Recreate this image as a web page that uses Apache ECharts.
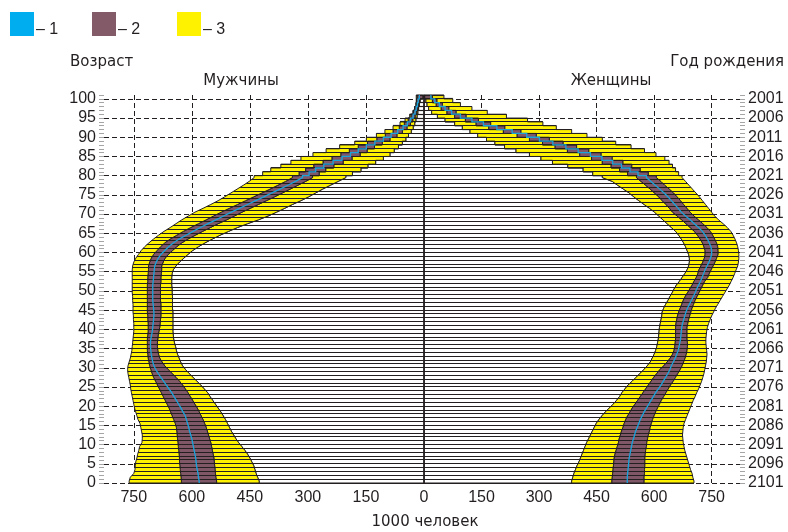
<!DOCTYPE html>
<html><head><meta charset="utf-8">
<script src="https://cdn.jsdelivr.net/npm/echarts@6/dist/echarts.min.js"></script>
<style>html,body{margin:0;padding:0;background:#fff}#c{width:788px;height:532px}</style>
</head><body><div id="c"></div>
<script>
// ---- Data (thousand persons), index = age 0..100 ----
const ageGroups = Array.from({length: 101}, (_, i) => i);
const ageTicks = [0,5,10,15,20,25,30,35,40,45,50,55,60,65,70,75,80,85,90,95,100];
const birthYearAtAge0 = 2101; // right axis: 2101 ... 2001
const valueTicks = [0,150,300,450,600,750];

// Males
const mOuter = [762,759,750,747,746,745,742,740,737,735, 729,728,728,730,732,734,739,742,745,748,
  750,752,754,756,758,759,761,763,765,766, 765,762,759,757,755,754,753,752,751,750,
  750,750,751,751,752,752,752,753,753,754, 754,754,754,754,754,754,753,750,745,738,
  731,722,711,699,686,672,656,641,626,609, 592,571,551,532,515,499,483,467,452,439,
  417,396,370,344,318,287,253,218,179,149, 123,101,80,62,49,37,28,24,21,20,20];
const mPurpleHi = [627,628,629,630,631,632,632,633,634,635, 636,637,638,639,640,643,647,651,655,659,
  664,669,674,679,684,689,694,699,703,706, 709,711,713,714,715,715,715,715,714,713,
  713,713,714,714,715,715,715,715,715,715, 715,715,714,714,713,712,712,709,705,699,
  690,681,670,656,639,622,603,583,563,544, 524,503,482,461,440,419,398,378,358,340,
  323,306,285,261,238,215,193,170,146,122, 100,80,64,51,41,34,28,24,20,19,18];
const mMedian = [581,583,584,586,588,589,590,592,594,596, 598,600,603,606,608,611,614,617,623,628,
  634,640,646,652,659,666,673,680,687,693, 698,701,703,705,706,707,707,706,704,702,
  701,700,699,698,698,699,700,701,701,701, 701,701,700,699,698,697,696,692,687,680,
  670,660,648,633,615,597,578,558,538,518, 498,477,456,435,414,393,372,352,332,314,
  297,280,259,235,212,190,170,149,127,105, 85,68,54,43,35,28,23,20,17,15,12];
const mPurpleLo = [536,538,539,540,541,542,543,545,547,549, 551,554,557,560,563,567,571,576,581,586,
  592,598,604,610,617,624,632,641,651,661, 670,677,683,686,688,689,689,688,687,685,
  683,682,681,680,680,680,680,681,681,681, 681,681,680,680,679,678,678,674,669,661,
  650,639,626,610,591,572,552,532,510,490, 470,449,428,407,386,366,346,326,306,288,
  271,254,233,209,186,165,147,128,108,88, 70,56,44,35,29,23,19,16,14,12,3];
const mInner = [426,430,434,437,440,445,450,456,463,471, 479,486,492,498,503,508,513,519,525,532,
  539,546,553,559,568,577,587,597,607,616, 624,629,633,637,640,642,645,647,648,649,
  649,649,649,649,649,650,650,650,650,651, 651,652,652,652,651,648,641,632,621,610,
  598,583,566,547,527,505,482,456,428,403, 381,360,340,318,298,280,262,242,222,202,
  185,163,145,125,105,88,77,66,56,47, 40,33,28,24,21,18,16,14,12,10,2];

// Females
const fOuter = [704,701,699,695,692,689,686,683,680,678, 676,675,674,675,676,678,682,686,690,694,
  698,702,707,711,716,720,724,727,730,732, 734,736,737,738,737,736,735,735,736,737,
  739,742,746,750,755,760,766,772,778,784, 790,796,801,806,810,814,818,820,821,821,
  820,818,815,811,806,800,791,780,768,758, 750,742,734,726,718,709,700,691,682,673,
  664,656,648,639,628,605,575,540,500,465, 425,385,345,310,270,215,165,125,95,75,52];
const fPurpleHi = [574,574,575,575,576,576,576,577,578,580, 581,583,585,588,590,593,596,600,604,609,
  614,619,625,631,637,643,650,656,662,668, 673,677,681,684,686,687,687,686,686,686,
  686,688,690,693,696,699,703,707,712,717, 722,727,732,740,744,749,754,759,763,767,
  767,766,763,758,753,747,738,727,716,704, 694,686,677,669,660,651,640,628,618,606,
  585,564,542,519,491,462,430,398,363,327, 293,253,211,174,142,110,84,65,48,34,22];
const fMedian = [530,530,531,532,533,534,535,537,539,541, 543,546,549,552,556,560,564,569,574,580,
  586,592,598,604,611,618,624,630,636,641, 645,650,655,659,663,665,667,669,670,671,
  672,674,677,680,683,687,692,697,702,707, 711,716,721,725,729,733,738,743,747,750,
  750,748,744,739,733,726,716,705,694,682, 671,663,654,645,636,626,615,603,592,580,
  558,537,515,492,464,434,402,370,336,301, 268,230,190,155,125,95,72,55,40,28,18];
const fPurpleLo = [490,491,492,493,494,495,496,498,501,504, 507,509,512,515,519,522,526,531,537,543,
  550,557,564,571,578,585,592,599,607,615, 625,634,642,648,652,654,655,656,656,656,
  656,657,659,661,664,668,672,676,681,687, 693,699,704,710,714,717,722,727,731,733,
  733,730,726,720,713,705,694,683,672,660, 648,640,631,621,612,601,590,578,566,554,
  531,510,488,465,437,406,374,342,309,275, 243,207,169,136,108,80,60,45,32,22,2];
const fInner = [385,388,391,395,399,404,408,412,416,420, 424,429,434,439,444,449,456,464,473,483,
  493,502,510,516,524,532,543,553,563,573, 582,590,595,600,604,607,609,611,612,613,
  614,616,618,620,621,625,630,636,641,647, 652,658,666,673,680,686,690,692,692,690,
  686,682,677,671,664,656,645,634,623,612, 601,588,574,560,547,535,520,505,491,465,
  440,415,375,335,305,275,240,210,185,163, 140,120,100,80,55,35,20,12,8,5,1];

// ---- Style ----
const C_TEXT = '#231f20', C_LINE = '#231f20';
const C_BLUE = '#19a3dd', C_PURPLE = '#7f5767', C_YELLOW = '#fff200';
const FONT = 'Liberation Sans, Arial, sans-serif';
const TITLE_FONT = '15px "DejaVu Sans", sans-serif';
const STEP_AGE = 80; // rows from this age upward are drawn as stepped blocks

function rows(inner, lo, med, hi, outer) {
  return ageGroups.map((a, i) => [inner[i], lo[i], med[i], hi[i], outer[i], a]);
}

function makeRender(withCenter) {
  return function (params, api) {
    if (params.dataIndexInside !== 0) return null;
    const n = ageGroups.length;
    const val = (d, i) => api.value(d, i);
    const pt = (v, a) => api.coord([v, a]);
    function edge(d) {
      const pts = [pt(val(d, 0), val(5, 0))];
      for (let i = 0; i < n; i++) {
        const v = val(d, i), a = val(5, i);
        if (a + 1 < STEP_AGE) {
          pts.push(pt(v, a + 0.5));
          if (i === n - 1) pts.push(pt(v, a + 1));
        } else if (a + 1 === STEP_AGE) {
          pts.push(pt(v, a + 0.5)); pts.push(pt(v, a + 1));
        } else {
          pts.push(pt(v, a)); pts.push(pt(v, a + 1));
        }
      }
      return pts;
    }
    const E = [0, 1, 2, 3, 4].map(edge);
    const top = val(5, n - 1) + 1, bottom = val(5, 0);
    const zero = [pt(0, bottom), pt(0, top)];
    const poly = (a, b, fill) => ({
      type: 'polygon',
      shape: { points: a.concat(b.slice().reverse()) },
      style: { fill: fill, stroke: C_LINE, lineWidth: 1, lineJoin: 'miter' }
    });
    const children = [
      poly(E[0], zero, '#ffffff'),
      poly(E[1], E[0], C_YELLOW),
      poly(E[3], E[1], C_PURPLE),
      poly(E[4], E[3], C_YELLOW)
    ];
    // horizontal row separators
    for (let b = 0; b <= n; b++) {
      let ext;
      if (b === 0) ext = val(4, 0);
      else if (b === n) ext = val(4, n - 1);
      else if (b < STEP_AGE) ext = (val(4, b - 1) + val(4, b)) / 2;
      else ext = Math.max(val(4, b - 1), val(4, b));
      const p0 = pt(0, b), p1 = pt(ext, b);
      const y = Math.round(p0[1] - 0.5) + 0.5;
      children.push({ type: 'line', shape: { x1: p0[0], y1: y, x2: p1[0], y2: y },
        style: { stroke: C_LINE, lineWidth: 1.2 } });
    }
    children.push({ type: 'polyline', shape: { points: E[2] },
      style: { stroke: C_BLUE, lineWidth: 1.3, fill: null } });
    if (withCenter) {
      children.push({ type: 'line', shape: { x1: zero[0][0], y1: zero[0][1], x2: zero[1][0], y2: zero[1][1] },
        style: { stroke: C_LINE, lineWidth: 1.6 } });
    }
    return { type: 'group', children: children };
  };
}

const dashed = { color: C_LINE, width: 1, type: [5, 3] };
const xAxisCommon = (grid, max, inverse) => ({
  gridIndex: grid, type: 'value', min: 0, max: max, interval: 150, inverse: inverse,
  axisLine: { show: false }, axisTick: { show: false },
  axisLabel: { color: C_TEXT, fontSize: 16, fontFamily: FONT, margin: 7,
    customValues: inverse ? valueTicks.slice(1) : valueTicks },
  splitLine: { show: true, lineStyle: dashed, showMaxLine: false }
});
const yAxisCommon = (grid, pos, fmt) => ({
  gridIndex: grid, type: 'value', min: 0, max: 101, interval: 5, position: pos,
  axisLine: { show: true, lineStyle: { color: '#b5b5b5', width: 1 } },
  axisTick: { show: true, length: 6, lineStyle: { color: '#8a8a8a', width: 1 } },
  axisLabel: { color: C_TEXT, fontSize: 16, fontFamily: FONT, margin: 8,
    customValues: ageTicks, formatter: fmt },
  splitLine: { show: true, lineStyle: dashed, showMaxLine: false }
});
// ruler axes: one tick per year, no labels, no grid lines
const rulerAxis = (grid, pos) => ({
  gridIndex: grid, type: 'value', min: 0, max: 101, interval: 1, position: pos,
  axisLine: { show: false },
  axisTick: { show: true, length: 5, lineStyle: { color: '#a5a5a5', width: 1 } },
  axisLabel: { show: false }, splitLine: { show: false }
});

const chart = echarts.init(document.getElementById('c'), null, { renderer: 'canvas' });
chart.setOption({
  backgroundColor: '#ffffff',
  animation: false,
  grid: [
    { left: 104, top: 95, width: 320, height: 388 },
    { left: 424, top: 95, width: 316, height: 388 }
  ],
  xAxis: [xAxisCommon(0, 827, true), xAxisCommon(1, 824, false)],
  yAxis: [
    yAxisCommon(0, 'left', v => String(v)),
    yAxisCommon(1, 'right', v => String(birthYearAtAge0 - v)),
    rulerAxis(0, 'left'),
    rulerAxis(1, 'right')
  ],
  series: [
    { name: 'Мужчины', type: 'custom', xAxisIndex: 0, yAxisIndex: 0,
      dimensions: ['inner', 'purpleLo', 'median', 'purpleHi', 'outer', 'age'],
      encode: { x: [0, 1, 2, 3, 4], y: 5 },
      data: rows(mInner, mPurpleLo, mMedian, mPurpleHi, mOuter),
      renderItem: makeRender(true), z: 3 },
    { name: 'Женщины', type: 'custom', xAxisIndex: 1, yAxisIndex: 1,
      dimensions: ['inner', 'purpleLo', 'median', 'purpleHi', 'outer', 'age'],
      encode: { x: [0, 1, 2, 3, 4], y: 5 },
      data: rows(fInner, fPurpleLo, fMedian, fPurpleHi, fOuter),
      renderItem: makeRender(false), z: 2 }
  ],
  graphic: [
    { type: 'rect', x: 10, y: 12, shape: { width: 24, height: 24 }, style: { fill: '#00aeef' } },
    { type: 'text', x: 36, y: 30, style: { text: '– 1', fill: C_TEXT, font: '16px ' + FONT, verticalAlign: 'middle' } },
    { type: 'rect', x: 92, y: 12, shape: { width: 24, height: 24 }, style: { fill: '#835a68' } },
    { type: 'text', x: 118, y: 30, style: { text: '– 2', fill: C_TEXT, font: '16px ' + FONT, verticalAlign: 'middle' } },
    { type: 'rect', x: 177, y: 12, shape: { width: 24, height: 24 }, style: { fill: '#fff200' } },
    { type: 'text', x: 203, y: 30, style: { text: '– 3', fill: C_TEXT, font: '16px ' + FONT, verticalAlign: 'middle' } },
    { type: 'text', x: 70, y: 62, style: { text: 'Возраст', fill: C_TEXT, font: TITLE_FONT, verticalAlign: 'middle' } },
    { type: 'text', x: 784, y: 62, style: { text: 'Год рождения', fill: C_TEXT, font: TITLE_FONT, align: 'right', verticalAlign: 'middle' } },
    { type: 'text', x: 241, y: 81, style: { text: 'Мужчины', fill: C_TEXT, font: TITLE_FONT, align: 'center', verticalAlign: 'middle' } },
    { type: 'text', x: 611, y: 81, style: { text: 'Женщины', fill: C_TEXT, font: TITLE_FONT, align: 'center', verticalAlign: 'middle' } },
    { type: 'text', x: 425, y: 522, style: { text: '1000 человек', fill: C_TEXT, font: TITLE_FONT, align: 'center', verticalAlign: 'middle' } }
  ]
});
</script>
</body></html>
